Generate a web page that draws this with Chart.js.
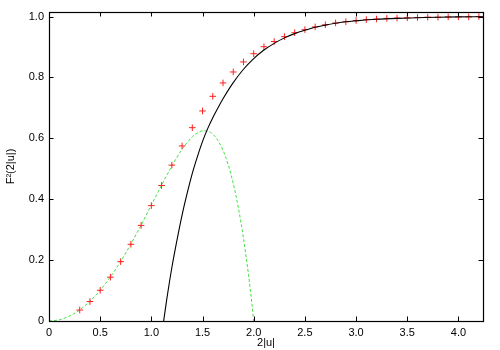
<!DOCTYPE html>
<html><head><meta charset="utf-8">
<script src="https://cdn.jsdelivr.net/npm/chart.js@4/dist/chart.umd.min.js"></script>
<style>html,body{margin:0;padding:0;background:#fff}canvas{display:block}</style>
</head><body>
<canvas id="c" width="500" height="350"></canvas>
<script>
const xTickValues = [0, 0.5, 1, 1.5, 2, 2.5, 3, 3.5, 4];
const yTickValues = [0, 0.2, 0.4, 0.6, 0.8, 1];
const xTitle = '2|u|';
const yTitle = 'F²(2|u|)';

// red "+" data points
const pointsX = [0.3,0.4,0.5,0.6,0.7,0.8,0.9,1.0,1.1,1.2,1.3,1.4,1.5,1.6,1.7,1.8,1.9,2.0,2.1,2.2,2.3,2.4,2.5,2.6,2.7,2.8,2.9,3.0,3.1,3.2,3.3,3.4,3.5,3.6,3.7,3.8,3.9,4.0,4.1,4.2];
const pointsY = [0.036,0.064,0.101,0.144,0.195,0.252,0.314,0.379,0.445,0.512,0.575,0.635,0.690,0.738,0.782,0.818,0.851,0.878,0.901,0.918,0.934,0.947,0.957,0.966,0.973,0.979,0.983,0.987,0.990,0.992,0.994,0.995,0.996,0.997,0.998,0.998,0.999,0.999,0.999,1.0];

// black solid curve
const largeX = [1.12,1.15,1.2,1.25,1.3,1.35,1.4,1.45,1.5,1.55,1.6,1.65,1.7,1.8,1.9,2.0,2.1,2.2,2.3,2.4,2.5,2.6,2.7,2.8,2.9,3.0,3.2,3.4,3.6,3.8,4.0,4.24];
const largeY = [0,0.07,0.175,0.265,0.348,0.42,0.485,0.54,0.59,0.632,0.668,0.70,0.73,0.783,0.827,0.862,0.89,0.912,0.93,0.944,0.955,0.965,0.972,0.978,0.983,0.986,0.991,0.994,0.996,0.998,0.999,0.9995];

// green dashed curve
const smallX = [0,0.1,0.2,0.3,0.4,0.5,0.6,0.7,0.8,0.9,1.0,1.1,1.2,1.3,1.4,1.45,1.5,1.55,1.6,1.65,1.7,1.75,1.8,1.85,1.9,1.95,1.98,2.0];
const smallY = [0,0.004,0.016,0.0365,0.065,0.101,0.145,0.196,0.253,0.315,0.381,0.446,0.509,0.564,0.605,0.618,0.6245,0.6235,0.614,0.593,0.561,0.5145,0.452,0.372,0.272,0.149,0.063,0];

const zip = (xs, ys) => xs.map((x, i) => ({x, y: ys[i]}));
const FONT = "'Liberation Sans', Arial, sans-serif";

const frame = {
  id: 'frame',
  afterDraw(chart) {
    const {ctx, chartArea: a, scales: {x, y}} = chart;
    ctx.save();
    ctx.strokeStyle = '#000';
    ctx.lineWidth = 1;
    ctx.beginPath();
    const L = 4.5;
    xTickValues.forEach(v => {
      const px = Math.round(x.getPixelForValue(v)) + 0.5;
      ctx.moveTo(px, a.bottom); ctx.lineTo(px, a.bottom - L);
      ctx.moveTo(px, a.top); ctx.lineTo(px, a.top + L);
    });
    yTickValues.forEach(v => {
      const py = Math.round(y.getPixelForValue(v)) + 0.5;
      ctx.moveTo(a.left, py); ctx.lineTo(a.left + L, py);
      ctx.moveTo(a.right, py); ctx.lineTo(a.right - L, py);
    });
    ctx.stroke();
    ctx.lineWidth = 1.2;
    ctx.strokeRect(Math.round(a.left) + 0.5, Math.round(a.top) + 0.5, Math.round(a.right - a.left), Math.round(a.bottom - a.top));
    ctx.restore();
  }
};

new Chart(document.getElementById('c'), {
  type: 'scatter',
  data: {
    datasets: [
      {
        order: 0,
        data: zip(largeX, largeY), showLine: true, borderColor: '#000', borderWidth: 1.1,
        pointRadius: 0, cubicInterpolationMode: 'monotone', fill: false
      },
      {
        order: 2,
        data: zip(smallX, smallY), showLine: true, borderColor: '#44e044', borderWidth: 1,
        borderDash: [3, 2], pointRadius: 0, cubicInterpolationMode: 'monotone', fill: false
      },
      {
        order: 1,
        data: zip(pointsX, pointsY), showLine: false, pointStyle: 'cross', pointRadius: 3.3,
        borderColor: '#ff2020', backgroundColor: '#ff2020', pointBorderWidth: 1, pointHoverRadius: 3.3
      }
    ]
  },
  options: {
    responsive: false, animation: false, devicePixelRatio: 1,
    layout: {padding: {top: 12, right: 17, left: 0, bottom: 0}},
    plugins: {legend: {display: false}, tooltip: {enabled: false}},
    scales: {
      x: {
        type: 'linear', min: 0, max: 4.24,
        afterBuildTicks: s => { s.ticks = xTickValues.map(v => ({value: v})); },
        afterFit: s => { s.height = 29; },
        grid: {display: false, drawTicks: false}, border: {display: false},
        ticks: {color: '#000', padding: 5, font: {family: FONT, size: 11}, maxRotation: 0, autoSkip: false},
        title: {display: true, text: xTitle, color: '#000', font: {family: FONT, size: 11}, padding: {top: 4, bottom: 0}}
      },
      y: {
        type: 'linear', min: 0, max: 1.015,
        afterBuildTicks: s => { s.ticks = yTickValues.map(v => ({value: v})); },
        afterFit: s => { s.width = 49; },
        grid: {display: false, drawTicks: false}, border: {display: false},
        ticks: {color: '#000', padding: 5, font: {family: FONT, size: 11}, autoSkip: false},
        title: {display: true, text: yTitle, color: '#000', font: {family: FONT, size: 11}, padding: {top: 4, bottom: 0}}
      }
    }
  },
  plugins: [frame]
});
</script>
</body></html>
